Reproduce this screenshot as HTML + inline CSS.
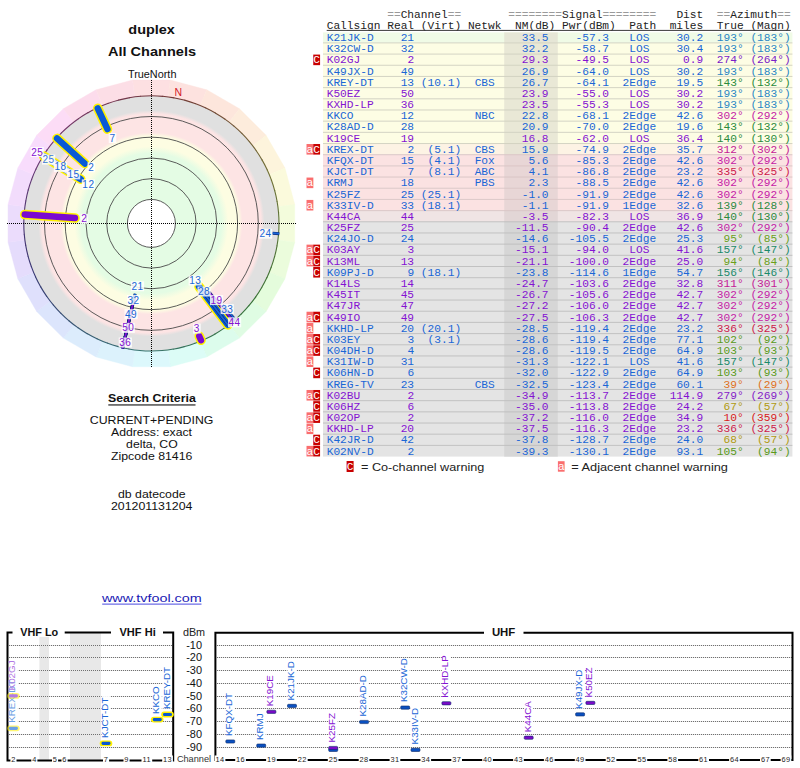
<!DOCTYPE html>
<html><head><meta charset="utf-8"><style>
html,body{margin:0;padding:0;background:#fff;}
body{width:800px;height:768px;overflow:hidden;position:relative;}
svg{position:absolute;left:0;top:0;}
</style></head><body>
<svg width="800" height="768" viewBox="0 0 800 768">
<g shape-rendering="geometricPrecision">
<path d="M151.4,223.4 L132.53,80.04 L170.27,80.04 Z" fill="#fde0e2" stroke="#fde0e2" stroke-width="0.4"/>
<path d="M151.4,223.4 L170.27,80.04 L206.74,89.81 Z" fill="#fde2df" stroke="#fde2df" stroke-width="0.4"/>
<path d="M151.4,223.4 L206.74,89.81 L239.43,108.68 Z" fill="#fde6dc" stroke="#fde6dc" stroke-width="0.4"/>
<path d="M151.4,223.4 L239.43,108.68 L266.12,135.37 Z" fill="#fdecdc" stroke="#fdecdc" stroke-width="0.4"/>
<path d="M151.4,223.4 L266.12,135.37 L284.99,168.06 Z" fill="#fdf4dc" stroke="#fdf4dc" stroke-width="0.4"/>
<path d="M151.4,223.4 L284.99,168.06 L294.76,204.53 Z" fill="#fbfadc" stroke="#fbfadc" stroke-width="0.4"/>
<path d="M151.4,223.4 L294.76,204.53 L294.76,242.27 Z" fill="#f3fcdc" stroke="#f3fcdc" stroke-width="0.4"/>
<path d="M151.4,223.4 L294.76,242.27 L284.99,278.74 Z" fill="#ebfcdc" stroke="#ebfcdc" stroke-width="0.4"/>
<path d="M151.4,223.4 L284.99,278.74 L266.12,311.43 Z" fill="#e4fcdc" stroke="#e4fcdc" stroke-width="0.4"/>
<path d="M151.4,223.4 L266.12,311.43 L239.43,338.12 Z" fill="#dffce3" stroke="#dffce3" stroke-width="0.4"/>
<path d="M151.4,223.4 L239.43,338.12 L206.74,356.99 Z" fill="#dcfcec" stroke="#dcfcec" stroke-width="0.4"/>
<path d="M151.4,223.4 L206.74,356.99 L170.27,366.76 Z" fill="#dcfcf6" stroke="#dcfcf6" stroke-width="0.4"/>
<path d="M151.4,223.4 L170.27,366.76 L132.53,366.76 Z" fill="#dcf8fc" stroke="#dcf8fc" stroke-width="0.4"/>
<path d="M151.4,223.4 L132.53,366.76 L96.06,356.99 Z" fill="#dcf2fc" stroke="#dcf2fc" stroke-width="0.4"/>
<path d="M151.4,223.4 L96.06,356.99 L63.37,338.12 Z" fill="#dcecfc" stroke="#dcecfc" stroke-width="0.4"/>
<path d="M151.4,223.4 L63.37,338.12 L36.68,311.43 Z" fill="#dce5fc" stroke="#dce5fc" stroke-width="0.4"/>
<path d="M151.4,223.4 L36.68,311.43 L17.81,278.74 Z" fill="#dfe0fc" stroke="#dfe0fc" stroke-width="0.4"/>
<path d="M151.4,223.4 L17.81,278.74 L8.04,242.27 Z" fill="#e5dcfc" stroke="#e5dcfc" stroke-width="0.4"/>
<path d="M151.4,223.4 L8.04,242.27 L8.04,204.53 Z" fill="#ebdcfc" stroke="#ebdcfc" stroke-width="0.4"/>
<path d="M151.4,223.4 L8.04,204.53 L17.81,168.06 Z" fill="#f2dcfc" stroke="#f2dcfc" stroke-width="0.4"/>
<path d="M151.4,223.4 L17.81,168.06 L36.68,135.37 Z" fill="#f8dcfc" stroke="#f8dcfc" stroke-width="0.4"/>
<path d="M151.4,223.4 L36.68,135.37 L63.37,108.68 Z" fill="#fcdcf6" stroke="#fcdcf6" stroke-width="0.4"/>
<path d="M151.4,223.4 L63.37,108.68 L96.06,89.81 Z" fill="#fcdcec" stroke="#fcdcec" stroke-width="0.4"/>
<path d="M151.4,223.4 L96.06,89.81 L132.53,80.04 Z" fill="#fcdee6" stroke="#fcdee6" stroke-width="0.4"/>
</g>
<defs><radialGradient id="bands" gradientUnits="userSpaceOnUse" cx="151.4" cy="223.4" r="127.6">
<stop offset="0.0000" stop-color="#fff"/>
<stop offset="0.1881" stop-color="#fff"/>
<stop offset="0.1882" stop-color="#e4fce4"/>
<stop offset="0.5486" stop-color="#e4fce4"/>
<stop offset="0.6034" stop-color="#fdfde2"/>
<stop offset="0.6818" stop-color="#fdfde2"/>
<stop offset="0.7132" stop-color="#fde4e4"/>
<stop offset="0.8582" stop-color="#fde4e4"/>
<stop offset="0.8856" stop-color="#e0e0e0"/>
<stop offset="1.0000" stop-color="#e0e0e0"/>
</radialGradient></defs>
<circle cx="151.4" cy="223.4" r="127.6" fill="url(#bands)"/>
<g fill="none" stroke="#4a4a4a" stroke-width="0.9">
<circle cx="151.4" cy="223.4" r="24"/>
<circle cx="151.4" cy="223.4" r="44.7"/>
<circle cx="151.4" cy="223.4" r="65.4"/>
<circle cx="151.4" cy="223.4" r="86.2"/>
<circle cx="151.4" cy="223.4" r="106.9"/>
</g>
<g fill="none" stroke-width="1.1">
<path d="M151.40,95.80 A127.6,127.6 0 0 1 163.19,96.35" stroke="hsl(354,35%,33%)"/>
<path d="M162.52,96.29 A127.6,127.6 0 0 1 174.22,97.86" stroke="hsl(360,35%,33%)"/>
<path d="M173.56,97.74 A127.6,127.6 0 0 1 185.07,100.32" stroke="hsl(4,35%,33%)"/>
<path d="M184.43,100.15 A127.6,127.6 0 0 1 195.67,103.73" stroke="hsl(10,35%,33%)"/>
<path d="M195.04,103.50 A127.6,127.6 0 0 1 205.93,108.04" stroke="hsl(14,35%,33%)"/>
<path d="M205.33,107.76 A127.6,127.6 0 0 1 215.78,113.23" stroke="hsl(20,35%,33%)"/>
<path d="M215.20,112.90 A127.6,127.6 0 0 1 225.13,119.26" stroke="hsl(24,35%,33%)"/>
<path d="M224.59,118.88 A127.6,127.6 0 0 1 233.93,126.08" stroke="hsl(30,35%,33%)"/>
<path d="M233.42,125.65 A127.6,127.6 0 0 1 242.10,133.65" stroke="hsl(34,35%,33%)"/>
<path d="M241.63,133.17 A127.6,127.6 0 0 1 249.58,141.89" stroke="hsl(40,35%,33%)"/>
<path d="M249.15,141.38 A127.6,127.6 0 0 1 256.31,150.76" stroke="hsl(44,35%,33%)"/>
<path d="M255.92,150.21 A127.6,127.6 0 0 1 262.24,160.18" stroke="hsl(50,35%,33%)"/>
<path d="M261.90,159.60 A127.6,127.6 0 0 1 267.33,170.08" stroke="hsl(54,35%,33%)"/>
<path d="M267.04,169.47 A127.6,127.6 0 0 1 271.53,180.39" stroke="hsl(60,35%,33%)"/>
<path d="M271.30,179.76 A127.6,127.6 0 0 1 274.82,191.02" stroke="hsl(64,35%,33%)"/>
<path d="M274.65,190.37 A127.6,127.6 0 0 1 277.18,201.90" stroke="hsl(70,35%,33%)"/>
<path d="M277.06,201.24 A127.6,127.6 0 0 1 278.57,212.94" stroke="hsl(74,35%,33%)"/>
<path d="M278.51,212.28 A127.6,127.6 0 0 1 279.00,224.07" stroke="hsl(80,35%,33%)"/>
<path d="M279.00,223.40 A127.6,127.6 0 0 1 278.45,235.19" stroke="hsl(84,35%,33%)"/>
<path d="M278.51,234.52 A127.6,127.6 0 0 1 276.94,246.22" stroke="hsl(90,35%,33%)"/>
<path d="M277.06,245.56 A127.6,127.6 0 0 1 274.48,257.07" stroke="hsl(94,35%,33%)"/>
<path d="M274.65,256.43 A127.6,127.6 0 0 1 271.07,267.67" stroke="hsl(100,35%,33%)"/>
<path d="M271.30,267.04 A127.6,127.6 0 0 1 266.76,277.93" stroke="hsl(104,35%,33%)"/>
<path d="M267.04,277.33 A127.6,127.6 0 0 1 261.57,287.78" stroke="hsl(110,35%,33%)"/>
<path d="M261.90,287.20 A127.6,127.6 0 0 1 255.54,297.13" stroke="hsl(114,35%,33%)"/>
<path d="M255.92,296.59 A127.6,127.6 0 0 1 248.72,305.93" stroke="hsl(120,35%,33%)"/>
<path d="M249.15,305.42 A127.6,127.6 0 0 1 241.15,314.10" stroke="hsl(124,35%,33%)"/>
<path d="M241.63,313.63 A127.6,127.6 0 0 1 232.91,321.58" stroke="hsl(130,35%,33%)"/>
<path d="M233.42,321.15 A127.6,127.6 0 0 1 224.04,328.31" stroke="hsl(134,35%,33%)"/>
<path d="M224.59,327.92 A127.6,127.6 0 0 1 214.62,334.24" stroke="hsl(140,35%,33%)"/>
<path d="M215.20,333.90 A127.6,127.6 0 0 1 204.72,339.33" stroke="hsl(144,35%,33%)"/>
<path d="M205.33,339.04 A127.6,127.6 0 0 1 194.41,343.53" stroke="hsl(150,35%,33%)"/>
<path d="M195.04,343.30 A127.6,127.6 0 0 1 183.78,346.82" stroke="hsl(154,35%,33%)"/>
<path d="M184.43,346.65 A127.6,127.6 0 0 1 172.90,349.18" stroke="hsl(160,35%,33%)"/>
<path d="M173.56,349.06 A127.6,127.6 0 0 1 161.86,350.57" stroke="hsl(164,35%,33%)"/>
<path d="M162.52,350.51 A127.6,127.6 0 0 1 150.73,351.00" stroke="hsl(170,35%,33%)"/>
<path d="M151.40,351.00 A127.6,127.6 0 0 1 139.61,350.45" stroke="hsl(174,35%,33%)"/>
<path d="M140.28,350.51 A127.6,127.6 0 0 1 128.58,348.94" stroke="hsl(180,35%,33%)"/>
<path d="M129.24,349.06 A127.6,127.6 0 0 1 117.73,346.48" stroke="hsl(184,35%,33%)"/>
<path d="M118.37,346.65 A127.6,127.6 0 0 1 107.13,343.07" stroke="hsl(190,35%,33%)"/>
<path d="M107.76,343.30 A127.6,127.6 0 0 1 96.87,338.76" stroke="hsl(194,35%,33%)"/>
<path d="M97.47,339.04 A127.6,127.6 0 0 1 87.02,333.57" stroke="hsl(200,35%,33%)"/>
<path d="M87.60,333.90 A127.6,127.6 0 0 1 77.67,327.54" stroke="hsl(204,35%,33%)"/>
<path d="M78.21,327.92 A127.6,127.6 0 0 1 68.87,320.72" stroke="hsl(210,35%,33%)"/>
<path d="M69.38,321.15 A127.6,127.6 0 0 1 60.70,313.15" stroke="hsl(214,35%,33%)"/>
<path d="M61.17,313.63 A127.6,127.6 0 0 1 53.22,304.91" stroke="hsl(220,35%,33%)"/>
<path d="M53.65,305.42 A127.6,127.6 0 0 1 46.49,296.04" stroke="hsl(224,35%,33%)"/>
<path d="M46.88,296.59 A127.6,127.6 0 0 1 40.56,286.62" stroke="hsl(230,35%,33%)"/>
<path d="M40.90,287.20 A127.6,127.6 0 0 1 35.47,276.72" stroke="hsl(234,35%,33%)"/>
<path d="M35.76,277.33 A127.6,127.6 0 0 1 31.27,266.41" stroke="hsl(240,35%,33%)"/>
<path d="M31.50,267.04 A127.6,127.6 0 0 1 27.98,255.78" stroke="hsl(244,35%,33%)"/>
<path d="M28.15,256.43 A127.6,127.6 0 0 1 25.62,244.90" stroke="hsl(250,35%,33%)"/>
<path d="M25.74,245.56 A127.6,127.6 0 0 1 24.23,233.86" stroke="hsl(254,35%,33%)"/>
<path d="M24.29,234.52 A127.6,127.6 0 0 1 23.80,222.73" stroke="hsl(260,35%,33%)"/>
<path d="M23.80,223.40 A127.6,127.6 0 0 1 24.35,211.61" stroke="hsl(264,35%,33%)"/>
<path d="M24.29,212.28 A127.6,127.6 0 0 1 25.86,200.58" stroke="hsl(270,35%,33%)"/>
<path d="M25.74,201.24 A127.6,127.6 0 0 1 28.32,189.73" stroke="hsl(274,35%,33%)"/>
<path d="M28.15,190.37 A127.6,127.6 0 0 1 31.73,179.13" stroke="hsl(280,35%,33%)"/>
<path d="M31.50,179.76 A127.6,127.6 0 0 1 36.04,168.87" stroke="hsl(284,35%,33%)"/>
<path d="M35.76,169.47 A127.6,127.6 0 0 1 41.23,159.02" stroke="hsl(290,35%,33%)"/>
<path d="M40.90,159.60 A127.6,127.6 0 0 1 47.26,149.67" stroke="hsl(294,35%,33%)"/>
<path d="M46.88,150.21 A127.6,127.6 0 0 1 54.08,140.87" stroke="hsl(300,35%,33%)"/>
<path d="M53.65,141.38 A127.6,127.6 0 0 1 61.65,132.70" stroke="hsl(304,35%,33%)"/>
<path d="M61.17,133.17 A127.6,127.6 0 0 1 69.89,125.22" stroke="hsl(310,35%,33%)"/>
<path d="M69.38,125.65 A127.6,127.6 0 0 1 78.76,118.49" stroke="hsl(314,35%,33%)"/>
<path d="M78.21,118.88 A127.6,127.6 0 0 1 88.18,112.56" stroke="hsl(320,35%,33%)"/>
<path d="M87.60,112.90 A127.6,127.6 0 0 1 98.08,107.47" stroke="hsl(324,35%,33%)"/>
<path d="M97.47,107.76 A127.6,127.6 0 0 1 108.39,103.27" stroke="hsl(330,35%,33%)"/>
<path d="M107.76,103.50 A127.6,127.6 0 0 1 119.02,99.98" stroke="hsl(334,35%,33%)"/>
<path d="M118.37,100.15 A127.6,127.6 0 0 1 129.90,97.62" stroke="hsl(340,35%,33%)"/>
<path d="M129.24,97.74 A127.6,127.6 0 0 1 140.94,96.23" stroke="hsl(344,35%,33%)"/>
<path d="M140.28,96.29 A127.6,127.6 0 0 1 152.07,95.80" stroke="hsl(350,35%,33%)"/>
</g>
<g stroke="#000" stroke-width="1" stroke-dasharray="1 1" shape-rendering="crispEdges"><line x1="151.5" y1="80" x2="151.5" y2="367"/><line x1="7" y1="223.5" x2="296" y2="223.5"/></g>
<line x1="80.76" y1="179.26" x2="43.70" y2="156.10" stroke="#fff200" stroke-width="9.6" stroke-linecap="round"/>
<line x1="80.76" y1="179.26" x2="43.70" y2="156.10" stroke="#0a5ad6" stroke-width="6.4" stroke-linecap="round"/>
<line x1="75.08" y1="175.71" x2="43.70" y2="156.10" stroke="#e6e4f0" stroke-width="6" stroke-linecap="round"/>
<line x1="107.45" y1="129.14" x2="97.73" y2="108.30" stroke="#fff200" stroke-width="9.6" stroke-linecap="round"/>
<line x1="107.45" y1="129.14" x2="97.73" y2="108.30" stroke="#0a5ad6" stroke-width="6.4" stroke-linecap="round"/>
<line x1="84.89" y1="163.51" x2="57.02" y2="138.42" stroke="#fff200" stroke-width="9.6" stroke-linecap="round"/>
<line x1="84.89" y1="163.51" x2="57.02" y2="138.42" stroke="#0a5ad6" stroke-width="6.4" stroke-linecap="round"/>
<line x1="74.99" y1="218.06" x2="24.71" y2="214.54" stroke="#fff200" stroke-width="9.6" stroke-linecap="round"/>
<line x1="74.99" y1="218.06" x2="24.71" y2="214.54" stroke="#7a0ad0" stroke-width="6.4" stroke-linecap="round"/>
<line x1="198.94" y1="286.49" x2="227.83" y2="324.83" stroke="#fff200" stroke-width="9.6" stroke-linecap="round"/>
<line x1="198.94" y1="286.49" x2="227.83" y2="324.83" stroke="#0a5ad6" stroke-width="6.4" stroke-linecap="round"/>
<line x1="199.26" y1="336.16" x2="201.02" y2="340.30" stroke="#fff200" stroke-width="9.6" stroke-linecap="round"/>
<line x1="199.26" y1="336.16" x2="201.02" y2="340.30" stroke="#7a0ad0" stroke-width="6.4" stroke-linecap="round"/>
<line x1="135.16" y1="293.75" x2="122.54" y2="348.41" stroke="#0a2a78" stroke-width="3"/>
<line x1="135.16" y1="293.75" x2="122.54" y2="348.41" stroke="#1a66d6" stroke-width="1.8"/>
<line x1="134.84" y1="295.11" x2="122.54" y2="348.41" stroke="#0a2a78" stroke-width="3"/>
<line x1="134.84" y1="295.11" x2="122.54" y2="348.41" stroke="#1a66d6" stroke-width="1.8"/>
<line x1="133.63" y1="300.38" x2="122.54" y2="348.41" stroke="#0a2a78" stroke-width="3"/>
<line x1="133.63" y1="300.38" x2="122.54" y2="348.41" stroke="#1a66d6" stroke-width="1.8"/>
<line x1="132.91" y1="303.49" x2="122.54" y2="348.41" stroke="#0a2a78" stroke-width="3"/>
<line x1="132.91" y1="303.49" x2="122.54" y2="348.41" stroke="#8412d2" stroke-width="1.8"/>
<line x1="132.82" y1="303.88" x2="122.54" y2="348.41" stroke="#0a2a78" stroke-width="3"/>
<line x1="132.82" y1="303.88" x2="122.54" y2="348.41" stroke="#8412d2" stroke-width="1.8"/>
<line x1="202.73" y1="291.52" x2="228.61" y2="325.86" stroke="#0a2a78" stroke-width="3"/>
<line x1="202.73" y1="291.52" x2="228.61" y2="325.86" stroke="#1a66d6" stroke-width="1.8"/>
<line x1="208.93" y1="291.96" x2="233.87" y2="321.68" stroke="#0a2a78" stroke-width="3"/>
<line x1="208.93" y1="291.96" x2="233.87" y2="321.68" stroke="#8412d2" stroke-width="1.8"/>
<line x1="222.25" y1="304.91" x2="235.57" y2="320.23" stroke="#0a2a78" stroke-width="3"/>
<line x1="222.25" y1="304.91" x2="235.57" y2="320.23" stroke="#1a66d6" stroke-width="1.8"/>
<line x1="222.43" y1="308.05" x2="233.87" y2="321.68" stroke="#0a2a78" stroke-width="3"/>
<line x1="222.43" y1="308.05" x2="233.87" y2="321.68" stroke="#8412d2" stroke-width="1.8"/>
<line x1="272.61" y1="233.15" x2="279.29" y2="233.69" stroke="#0a2a78" stroke-width="3"/>
<line x1="272.61" y1="233.15" x2="279.29" y2="233.69" stroke="#1a66d6" stroke-width="1.8"/>
<rect x="108.7" y="133.0" width="7.6" height="10" fill="#fff" fill-opacity="0.82"/>
<text x="112.5" y="141.5" font-family="Liberation Sans" font-size="10" fill="#1a66d6" text-anchor="middle" letter-spacing="0.5">7</text>
<rect x="87.5" y="162.3" width="7.6" height="10" fill="#fff" fill-opacity="0.82"/>
<text x="91.3" y="170.8" font-family="Liberation Sans" font-size="10" fill="#1a66d6" text-anchor="middle" letter-spacing="0.5">2</text>
<rect x="30.6" y="147.0" width="13.2" height="10" fill="#fff" fill-opacity="0.82"/>
<text x="37.2" y="155.5" font-family="Liberation Sans" font-size="10" fill="#8412d2" text-anchor="middle" letter-spacing="0.5">25</text>
<rect x="42.0" y="154.6" width="13.2" height="10" fill="#fff" fill-opacity="0.82"/>
<text x="48.6" y="163.1" font-family="Liberation Sans" font-size="10" fill="#3a78d8" text-anchor="middle" letter-spacing="0.5">25</text>
<rect x="53.9" y="161.9" width="13.2" height="10" fill="#fff" fill-opacity="0.82"/>
<text x="60.5" y="170.4" font-family="Liberation Sans" font-size="10" fill="#1a66d6" text-anchor="middle" letter-spacing="0.5">18</text>
<rect x="67.0" y="169.4" width="13.2" height="10" fill="#fff" fill-opacity="0.82"/>
<text x="73.6" y="177.9" font-family="Liberation Sans" font-size="10" fill="#1a66d6" text-anchor="middle" letter-spacing="0.5">15</text>
<rect x="81.8" y="179.4" width="13.2" height="10" fill="#fff" fill-opacity="0.82"/>
<text x="88.4" y="187.9" font-family="Liberation Sans" font-size="10" fill="#1a66d6" text-anchor="middle" letter-spacing="0.5">12</text>
<rect x="80.6" y="213.8" width="7.6" height="10" fill="#fff" fill-opacity="0.82"/>
<text x="84.4" y="222.3" font-family="Liberation Sans" font-size="10" fill="#8412d2" text-anchor="middle" letter-spacing="0.5">2</text>
<rect x="259.0" y="228.7" width="13.2" height="10" fill="#fff" fill-opacity="0.82"/>
<text x="265.6" y="237.2" font-family="Liberation Sans" font-size="10" fill="#1a66d6" text-anchor="middle" letter-spacing="0.5">24</text>
<rect x="130.9" y="281.3" width="13.2" height="10" fill="#fff" fill-opacity="0.82"/>
<text x="137.5" y="289.8" font-family="Liberation Sans" font-size="10" fill="#1a66d6" text-anchor="middle" letter-spacing="0.5">21</text>
<rect x="127.0" y="295.0" width="13.2" height="10" fill="#fff" fill-opacity="0.82"/>
<text x="133.6" y="303.5" font-family="Liberation Sans" font-size="10" fill="#1a66d6" text-anchor="middle" letter-spacing="0.5">32</text>
<rect x="124.5" y="309.2" width="13.2" height="10" fill="#fff" fill-opacity="0.82"/>
<text x="131.1" y="317.7" font-family="Liberation Sans" font-size="10" fill="#1a66d6" text-anchor="middle" letter-spacing="0.5">49</text>
<rect x="121.6" y="322.9" width="13.2" height="10" fill="#fff" fill-opacity="0.82"/>
<text x="128.2" y="331.4" font-family="Liberation Sans" font-size="10" fill="#8412d2" text-anchor="middle" letter-spacing="0.5">50</text>
<rect x="118.7" y="337.5" width="13.2" height="10" fill="#fff" fill-opacity="0.82"/>
<text x="125.3" y="346.0" font-family="Liberation Sans" font-size="10" fill="#8412d2" text-anchor="middle" letter-spacing="0.5">36</text>
<rect x="188.6" y="275.5" width="13.2" height="10" fill="#fff" fill-opacity="0.82"/>
<text x="195.2" y="284.0" font-family="Liberation Sans" font-size="10" fill="#1a66d6" text-anchor="middle" letter-spacing="0.5">13</text>
<rect x="197.5" y="286.5" width="13.2" height="10" fill="#fff" fill-opacity="0.82"/>
<text x="204.1" y="295.0" font-family="Liberation Sans" font-size="10" fill="#1a66d6" text-anchor="middle" letter-spacing="0.5">28</text>
<rect x="210.0" y="295.1" width="13.2" height="10" fill="#fff" fill-opacity="0.82"/>
<text x="216.6" y="303.6" font-family="Liberation Sans" font-size="10" fill="#8412d2" text-anchor="middle" letter-spacing="0.5">19</text>
<rect x="220.6" y="304.1" width="13.2" height="10" fill="#fff" fill-opacity="0.82"/>
<text x="227.2" y="312.6" font-family="Liberation Sans" font-size="10" fill="#1a66d6" text-anchor="middle" letter-spacing="0.5">33</text>
<rect x="228.0" y="317.3" width="13.2" height="10" fill="#fff" fill-opacity="0.82"/>
<text x="234.6" y="325.8" font-family="Liberation Sans" font-size="10" fill="#8412d2" text-anchor="middle" letter-spacing="0.5">44</text>
<rect x="193.1" y="323.6" width="7.6" height="10" fill="#fff" fill-opacity="0.82"/>
<text x="196.9" y="332.1" font-family="Liberation Sans" font-size="10" fill="#8412d2" text-anchor="middle" letter-spacing="0.5">3</text>
<text x="178.2" y="95.6" font-family="Liberation Sans" font-size="10.5" fill="#d41a2a" text-anchor="middle">N</text>
<text x="151.6" y="33.7" font-family="Liberation Sans" font-size="13.2" font-weight="bold" fill="#111" text-anchor="middle" textLength="46.5" lengthAdjust="spacingAndGlyphs">duplex</text>
<text x="152.0" y="55.6" font-family="Liberation Sans" font-size="13.2" font-weight="bold" fill="#111" text-anchor="middle" textLength="88" lengthAdjust="spacingAndGlyphs">All Channels</text>
<text x="152.2" y="77.5" font-family="Liberation Sans" font-size="10.4" font-weight="normal" fill="#111" text-anchor="middle" textLength="48.5" lengthAdjust="spacingAndGlyphs">TrueNorth</text>
<text x="151.9" y="401.9" font-family="Liberation Sans" font-size="11.8" font-weight="bold" fill="#111" text-anchor="middle" textLength="87.8" lengthAdjust="spacingAndGlyphs">Search Criteria</text>
<rect x="108.3" y="404.4" width="87.2" height="1.1" fill="#111"/>
<text x="151.6" y="423.5" font-family="Liberation Sans" font-size="10.6" font-weight="normal" fill="#111" text-anchor="middle" textLength="123.6" lengthAdjust="spacingAndGlyphs">CURRENT+PENDING</text>
<text x="151.5" y="436.4" font-family="Liberation Sans" font-size="10.6" font-weight="normal" fill="#111" text-anchor="middle" textLength="81" lengthAdjust="spacingAndGlyphs">Address: exact</text>
<text x="151.9" y="448.3" font-family="Liberation Sans" font-size="10.6" font-weight="normal" fill="#111" text-anchor="middle" textLength="51.6" lengthAdjust="spacingAndGlyphs">delta, CO</text>
<text x="151.7" y="460.1" font-family="Liberation Sans" font-size="10.6" font-weight="normal" fill="#111" text-anchor="middle" textLength="81.4" lengthAdjust="spacingAndGlyphs">Zipcode 81416</text>
<text x="151.8" y="497.7" font-family="Liberation Sans" font-size="10.6" font-weight="normal" fill="#111" text-anchor="middle" textLength="67.6" lengthAdjust="spacingAndGlyphs">db datecode</text>
<text x="151.7" y="509.5" font-family="Liberation Sans" font-size="10.6" font-weight="normal" fill="#111" text-anchor="middle" textLength="81.4" lengthAdjust="spacingAndGlyphs">201201131204</text>
<text x="151.85" y="601.5" font-family="Liberation Sans" font-size="11" font-weight="normal" fill="#1a1ab4" text-anchor="middle" textLength="99.8" lengthAdjust="spacingAndGlyphs">www.tvfool.com</text>
<rect x="102.2" y="603.6" width="99.3" height="1" fill="#4a4ae0"/>
<g font-family="Liberation Mono" font-size="11.2" xml:space="preserve">
<rect x="323" y="32.40" width="469.4" height="10.50" fill="#f0fbe6"/>
<rect x="504.2" y="32.40" width="53.6" height="10.50" fill="#e6e6d6"/>
<rect x="323" y="42.90" width="469.4" height="11.18" fill="#fdfde4"/>
<rect x="504.2" y="42.90" width="53.6" height="11.18" fill="#e9e8d6"/>
<rect x="323" y="54.08" width="469.4" height="11.18" fill="#fdfde4"/>
<rect x="504.2" y="54.08" width="53.6" height="11.18" fill="#e9e8d6"/>
<rect x="323" y="65.26" width="469.4" height="11.18" fill="#fdfde4"/>
<rect x="504.2" y="65.26" width="53.6" height="11.18" fill="#e9e8d6"/>
<rect x="323" y="76.44" width="469.4" height="11.18" fill="#fdfde4"/>
<rect x="504.2" y="76.44" width="53.6" height="11.18" fill="#e9e8d6"/>
<rect x="323" y="87.62" width="469.4" height="11.18" fill="#fdfde4"/>
<rect x="504.2" y="87.62" width="53.6" height="11.18" fill="#e9e8d6"/>
<rect x="323" y="98.80" width="469.4" height="11.18" fill="#fdfde4"/>
<rect x="504.2" y="98.80" width="53.6" height="11.18" fill="#e9e8d6"/>
<rect x="323" y="109.98" width="469.4" height="11.18" fill="#fdfde4"/>
<rect x="504.2" y="109.98" width="53.6" height="11.18" fill="#e9e8d6"/>
<rect x="323" y="121.16" width="469.4" height="11.18" fill="#fdfde4"/>
<rect x="504.2" y="121.16" width="53.6" height="11.18" fill="#e9e8d6"/>
<rect x="323" y="132.34" width="469.4" height="11.18" fill="#fdfde4"/>
<rect x="504.2" y="132.34" width="53.6" height="11.18" fill="#e9e8d6"/>
<rect x="323" y="143.52" width="469.4" height="11.18" fill="#fdf3e4"/>
<rect x="504.2" y="143.52" width="53.6" height="11.18" fill="#e8e4d6"/>
<rect x="323" y="154.70" width="469.4" height="11.18" fill="#fbe2e2"/>
<rect x="504.2" y="154.70" width="53.6" height="11.18" fill="#e8d6d6"/>
<rect x="323" y="165.88" width="469.4" height="11.18" fill="#fbe2e2"/>
<rect x="504.2" y="165.88" width="53.6" height="11.18" fill="#e8d6d6"/>
<rect x="323" y="177.06" width="469.4" height="11.18" fill="#fbe2e2"/>
<rect x="504.2" y="177.06" width="53.6" height="11.18" fill="#e8d6d6"/>
<rect x="323" y="188.24" width="469.4" height="11.18" fill="#fbe2e2"/>
<rect x="504.2" y="188.24" width="53.6" height="11.18" fill="#e8d6d6"/>
<rect x="323" y="199.42" width="469.4" height="11.18" fill="#fbe2e2"/>
<rect x="504.2" y="199.42" width="53.6" height="11.18" fill="#e8d6d6"/>
<rect x="323" y="210.60" width="469.4" height="11.18" fill="#f0e4e4"/>
<rect x="504.2" y="210.60" width="53.6" height="11.18" fill="#e2d6d6"/>
<rect x="323" y="221.78" width="469.4" height="11.18" fill="#e4e4e4"/>
<rect x="504.2" y="221.78" width="53.6" height="11.18" fill="#d6d6d6"/>
<rect x="323" y="232.96" width="469.4" height="11.18" fill="#e4e4e4"/>
<rect x="504.2" y="232.96" width="53.6" height="11.18" fill="#d6d6d6"/>
<rect x="323" y="244.14" width="469.4" height="11.18" fill="#e4e4e4"/>
<rect x="504.2" y="244.14" width="53.6" height="11.18" fill="#d6d6d6"/>
<rect x="323" y="255.32" width="469.4" height="11.18" fill="#e4e4e4"/>
<rect x="504.2" y="255.32" width="53.6" height="11.18" fill="#d6d6d6"/>
<rect x="323" y="266.50" width="469.4" height="11.18" fill="#e4e4e4"/>
<rect x="504.2" y="266.50" width="53.6" height="11.18" fill="#d6d6d6"/>
<rect x="323" y="277.68" width="469.4" height="11.18" fill="#e4e4e4"/>
<rect x="504.2" y="277.68" width="53.6" height="11.18" fill="#d6d6d6"/>
<rect x="323" y="288.86" width="469.4" height="11.18" fill="#e4e4e4"/>
<rect x="504.2" y="288.86" width="53.6" height="11.18" fill="#d6d6d6"/>
<rect x="323" y="300.04" width="469.4" height="11.18" fill="#e4e4e4"/>
<rect x="504.2" y="300.04" width="53.6" height="11.18" fill="#d6d6d6"/>
<rect x="323" y="311.22" width="469.4" height="11.18" fill="#e4e4e4"/>
<rect x="504.2" y="311.22" width="53.6" height="11.18" fill="#d6d6d6"/>
<rect x="323" y="322.40" width="469.4" height="11.18" fill="#e4e4e4"/>
<rect x="504.2" y="322.40" width="53.6" height="11.18" fill="#d6d6d6"/>
<rect x="323" y="333.58" width="469.4" height="11.18" fill="#e4e4e4"/>
<rect x="504.2" y="333.58" width="53.6" height="11.18" fill="#d6d6d6"/>
<rect x="323" y="344.76" width="469.4" height="11.18" fill="#e4e4e4"/>
<rect x="504.2" y="344.76" width="53.6" height="11.18" fill="#d6d6d6"/>
<rect x="323" y="355.94" width="469.4" height="11.18" fill="#e4e4e4"/>
<rect x="504.2" y="355.94" width="53.6" height="11.18" fill="#d6d6d6"/>
<rect x="323" y="367.12" width="469.4" height="11.18" fill="#e4e4e4"/>
<rect x="504.2" y="367.12" width="53.6" height="11.18" fill="#d6d6d6"/>
<rect x="323" y="378.30" width="469.4" height="11.18" fill="#e4e4e4"/>
<rect x="504.2" y="378.30" width="53.6" height="11.18" fill="#d6d6d6"/>
<rect x="323" y="389.48" width="469.4" height="11.18" fill="#e4e4e4"/>
<rect x="504.2" y="389.48" width="53.6" height="11.18" fill="#d6d6d6"/>
<rect x="323" y="400.66" width="469.4" height="11.18" fill="#e4e4e4"/>
<rect x="504.2" y="400.66" width="53.6" height="11.18" fill="#d6d6d6"/>
<rect x="323" y="411.84" width="469.4" height="11.18" fill="#e4e4e4"/>
<rect x="504.2" y="411.84" width="53.6" height="11.18" fill="#d6d6d6"/>
<rect x="323" y="423.02" width="469.4" height="11.18" fill="#e4e4e4"/>
<rect x="504.2" y="423.02" width="53.6" height="11.18" fill="#d6d6d6"/>
<rect x="323" y="434.20" width="469.4" height="11.18" fill="#e4e4e4"/>
<rect x="504.2" y="434.20" width="53.6" height="11.18" fill="#d6d6d6"/>
<rect x="323" y="445.38" width="469.4" height="11.22" fill="#e4e4e4"/>
<rect x="504.2" y="445.38" width="53.6" height="11.22" fill="#d6d6d6"/>
<rect x="323" y="42.40" width="469.4" height="1" fill="#cfcfbf" fill-opacity="0.9"/>
<rect x="323" y="53.58" width="469.4" height="1" fill="#cfcfbf" fill-opacity="0.9"/>
<rect x="323" y="64.76" width="469.4" height="1" fill="#cfcfbf" fill-opacity="0.9"/>
<rect x="323" y="75.94" width="469.4" height="1" fill="#cfcfbf" fill-opacity="0.9"/>
<rect x="323" y="87.12" width="469.4" height="1" fill="#cfcfbf" fill-opacity="0.9"/>
<rect x="323" y="98.30" width="469.4" height="1" fill="#cfcfbf" fill-opacity="0.9"/>
<rect x="323" y="109.48" width="469.4" height="1" fill="#cfcfbf" fill-opacity="0.9"/>
<rect x="323" y="120.66" width="469.4" height="1" fill="#cfcfbf" fill-opacity="0.9"/>
<rect x="323" y="131.84" width="469.4" height="1" fill="#cfcfbf" fill-opacity="0.9"/>
<rect x="323" y="143.02" width="469.4" height="1" fill="#cfcfbf" fill-opacity="0.9"/>
<rect x="323" y="154.20" width="469.4" height="1" fill="#d8c4c4" fill-opacity="0.9"/>
<rect x="323" y="165.38" width="469.4" height="1" fill="#d8c4c4" fill-opacity="0.9"/>
<rect x="323" y="176.56" width="469.4" height="1" fill="#d8c4c4" fill-opacity="0.9"/>
<rect x="323" y="187.74" width="469.4" height="1" fill="#d8c4c4" fill-opacity="0.9"/>
<rect x="323" y="198.92" width="469.4" height="1" fill="#d8c4c4" fill-opacity="0.9"/>
<rect x="323" y="210.10" width="469.4" height="1" fill="#d8c4c4" fill-opacity="0.9"/>
<rect x="323" y="221.28" width="469.4" height="1" fill="#bdbdbd" fill-opacity="0.9"/>
<rect x="323" y="232.46" width="469.4" height="1" fill="#bdbdbd" fill-opacity="0.9"/>
<rect x="323" y="243.64" width="469.4" height="1" fill="#bdbdbd" fill-opacity="0.9"/>
<rect x="323" y="254.82" width="469.4" height="1" fill="#bdbdbd" fill-opacity="0.9"/>
<rect x="323" y="266.00" width="469.4" height="1" fill="#bdbdbd" fill-opacity="0.9"/>
<rect x="323" y="277.18" width="469.4" height="1" fill="#bdbdbd" fill-opacity="0.9"/>
<rect x="323" y="288.36" width="469.4" height="1" fill="#bdbdbd" fill-opacity="0.9"/>
<rect x="323" y="299.54" width="469.4" height="1" fill="#bdbdbd" fill-opacity="0.9"/>
<rect x="323" y="310.72" width="469.4" height="1" fill="#bdbdbd" fill-opacity="0.9"/>
<rect x="323" y="321.90" width="469.4" height="1" fill="#bdbdbd" fill-opacity="0.9"/>
<rect x="323" y="333.08" width="469.4" height="1" fill="#bdbdbd" fill-opacity="0.9"/>
<rect x="323" y="344.26" width="469.4" height="1" fill="#bdbdbd" fill-opacity="0.9"/>
<rect x="323" y="355.44" width="469.4" height="1" fill="#bdbdbd" fill-opacity="0.9"/>
<rect x="323" y="366.62" width="469.4" height="1" fill="#bdbdbd" fill-opacity="0.9"/>
<rect x="323" y="377.80" width="469.4" height="1" fill="#bdbdbd" fill-opacity="0.9"/>
<rect x="323" y="388.98" width="469.4" height="1" fill="#bdbdbd" fill-opacity="0.9"/>
<rect x="323" y="400.16" width="469.4" height="1" fill="#bdbdbd" fill-opacity="0.9"/>
<rect x="323" y="411.34" width="469.4" height="1" fill="#bdbdbd" fill-opacity="0.9"/>
<rect x="323" y="422.52" width="469.4" height="1" fill="#bdbdbd" fill-opacity="0.9"/>
<rect x="323" y="433.70" width="469.4" height="1" fill="#bdbdbd" fill-opacity="0.9"/>
<rect x="323" y="444.88" width="469.4" height="1" fill="#bdbdbd" fill-opacity="0.9"/>
<text x="387.22" y="17.50" fill="#9a9a9a">==</text>
<text x="400.67" y="17.50" fill="#222">Channel</text>
<text x="447.75" y="17.50" fill="#9a9a9a">==</text>
<text x="508.27" y="17.50" fill="#9a9a9a">========</text>
<text x="562.08" y="17.50" fill="#222">Signal</text>
<text x="602.42" y="17.50" fill="#9a9a9a">========</text>
<text x="676.40" y="17.50" fill="#222">Dist</text>
<text x="716.75" y="17.50" fill="#9a9a9a">==</text>
<text x="730.20" y="17.50" fill="#222">Azimuth</text>
<text x="777.27" y="17.50" fill="#9a9a9a">==</text>
<text x="326.70" y="28.60" fill="#222">Callsign</text>
<text x="387.22" y="28.60" fill="#222">Real</text>
<text x="420.85" y="28.60" fill="#222">(Virt)</text>
<text x="467.92" y="28.60" fill="#222">Netwk</text>
<text x="515.00" y="28.60" fill="#222">NM(dB)</text>
<text x="562.08" y="28.60" fill="#222">Pwr(dBm)</text>
<text x="629.33" y="28.60" fill="#222">Path</text>
<text x="669.67" y="28.60" fill="#222">miles</text>
<text x="716.75" y="28.60" fill="#222">True</text>
<text x="750.38" y="28.60" fill="#222">(Magn)</text>
<rect x="326.7" y="29.9" width="464.02" height="1" fill="#3a3a3a"/>
<text x="326.70" y="41.00" fill="#1a66d6">K21JK-D</text>
<text x="400.67" y="41.00" fill="#1a66d6">21</text>
<text x="521.72" y="41.00" fill="#1a66d6">33.5</text>
<text x="575.52" y="41.00" fill="#1a66d6">-57.3</text>
<text x="629.33" y="41.00" fill="#1a66d6">LOS</text>
<text x="676.40" y="41.00" fill="#1a66d6">30.2</text>
<text x="716.75" y="41.00" fill="#2a86c4">193°</text>
<text x="750.38" y="41.00" fill="#2a86c4">(183°)</text>
<text x="326.70" y="52.18" fill="#1a66d6">K32CW-D</text>
<text x="400.67" y="52.18" fill="#1a66d6">32</text>
<text x="521.72" y="52.18" fill="#1a66d6">32.2</text>
<text x="575.52" y="52.18" fill="#1a66d6">-58.7</text>
<text x="629.33" y="52.18" fill="#1a66d6">LOS</text>
<text x="676.40" y="52.18" fill="#1a66d6">30.4</text>
<text x="716.75" y="52.18" fill="#2a86c4">193°</text>
<text x="750.38" y="52.18" fill="#2a86c4">(183°)</text>
<rect x="313.25" y="54.58" width="6.82" height="10.58" fill="#c80000"/>
<text x="313.25" y="63.36" fill="#fff">C</text>
<text x="326.70" y="63.36" fill="#8412d2">K02GJ</text>
<text x="407.40" y="63.36" fill="#8412d2">2</text>
<text x="521.72" y="63.36" fill="#8412d2">29.3</text>
<text x="575.52" y="63.36" fill="#8412d2">-49.5</text>
<text x="629.33" y="63.36" fill="#8412d2">LOS</text>
<text x="683.12" y="63.36" fill="#8412d2">0.9</text>
<text x="716.75" y="63.36" fill="#7a20c8">274°</text>
<text x="750.38" y="63.36" fill="#7a20c8">(264°)</text>
<text x="326.70" y="74.54" fill="#1a66d6">K49JX-D</text>
<text x="400.67" y="74.54" fill="#1a66d6">49</text>
<text x="521.72" y="74.54" fill="#1a66d6">26.9</text>
<text x="575.52" y="74.54" fill="#1a66d6">-64.0</text>
<text x="629.33" y="74.54" fill="#1a66d6">LOS</text>
<text x="676.40" y="74.54" fill="#1a66d6">30.2</text>
<text x="716.75" y="74.54" fill="#2a86c4">193°</text>
<text x="750.38" y="74.54" fill="#2a86c4">(183°)</text>
<text x="326.70" y="85.72" fill="#1a66d6">KREY-DT</text>
<text x="400.67" y="85.72" fill="#1a66d6">13</text>
<text x="420.85" y="85.72" fill="#1a66d6">(10.1)</text>
<text x="474.65" y="85.72" fill="#1a66d6">CBS</text>
<text x="521.72" y="85.72" fill="#1a66d6">26.7</text>
<text x="575.52" y="85.72" fill="#1a66d6">-64.1</text>
<text x="622.60" y="85.72" fill="#1a66d6">2Edge</text>
<text x="676.40" y="85.72" fill="#1a66d6">19.5</text>
<text x="716.75" y="85.72" fill="#2a8a3c">143°</text>
<text x="750.38" y="85.72" fill="#2a8a3c">(132°)</text>
<text x="326.70" y="96.90" fill="#8412d2">K50EZ</text>
<text x="400.67" y="96.90" fill="#8412d2">50</text>
<text x="521.72" y="96.90" fill="#8412d2">23.9</text>
<text x="575.52" y="96.90" fill="#8412d2">-55.0</text>
<text x="629.33" y="96.90" fill="#8412d2">LOS</text>
<text x="676.40" y="96.90" fill="#8412d2">30.2</text>
<text x="716.75" y="96.90" fill="#2a86c4">193°</text>
<text x="750.38" y="96.90" fill="#2a86c4">(183°)</text>
<text x="326.70" y="108.08" fill="#8412d2">KXHD-LP</text>
<text x="400.67" y="108.08" fill="#8412d2">36</text>
<text x="521.72" y="108.08" fill="#8412d2">23.5</text>
<text x="575.52" y="108.08" fill="#8412d2">-55.3</text>
<text x="629.33" y="108.08" fill="#8412d2">LOS</text>
<text x="676.40" y="108.08" fill="#8412d2">30.2</text>
<text x="716.75" y="108.08" fill="#2a86c4">193°</text>
<text x="750.38" y="108.08" fill="#2a86c4">(183°)</text>
<text x="326.70" y="119.26" fill="#1a66d6">KKCO</text>
<text x="400.67" y="119.26" fill="#1a66d6">12</text>
<text x="474.65" y="119.26" fill="#1a66d6">NBC</text>
<text x="521.72" y="119.26" fill="#1a66d6">22.8</text>
<text x="575.52" y="119.26" fill="#1a66d6">-68.1</text>
<text x="622.60" y="119.26" fill="#1a66d6">2Edge</text>
<text x="676.40" y="119.26" fill="#1a66d6">42.6</text>
<text x="716.75" y="119.26" fill="#c41aa6">302°</text>
<text x="750.38" y="119.26" fill="#c41aa6">(292°)</text>
<text x="326.70" y="130.44" fill="#1a66d6">K28AD-D</text>
<text x="400.67" y="130.44" fill="#1a66d6">28</text>
<text x="521.72" y="130.44" fill="#1a66d6">20.9</text>
<text x="575.52" y="130.44" fill="#1a66d6">-70.0</text>
<text x="622.60" y="130.44" fill="#1a66d6">2Edge</text>
<text x="676.40" y="130.44" fill="#1a66d6">19.6</text>
<text x="716.75" y="130.44" fill="#2a8a3c">143°</text>
<text x="750.38" y="130.44" fill="#2a8a3c">(132°)</text>
<text x="326.70" y="141.62" fill="#8412d2">K19CE</text>
<text x="400.67" y="141.62" fill="#8412d2">19</text>
<text x="521.72" y="141.62" fill="#8412d2">16.8</text>
<text x="575.52" y="141.62" fill="#8412d2">-62.0</text>
<text x="629.33" y="141.62" fill="#8412d2">LOS</text>
<text x="676.40" y="141.62" fill="#8412d2">36.4</text>
<text x="716.75" y="141.62" fill="#2a8a3c">140°</text>
<text x="750.38" y="141.62" fill="#2a8a3c">(130°)</text>
<rect x="306.52" y="144.02" width="6.82" height="10.58" fill="#fa6e6e"/>
<text x="306.52" y="152.80" fill="#fff">a</text>
<rect x="313.25" y="144.02" width="6.82" height="10.58" fill="#c80000"/>
<text x="313.25" y="152.80" fill="#fff">C</text>
<text x="326.70" y="152.80" fill="#1a66d6">KREX-DT</text>
<text x="407.40" y="152.80" fill="#1a66d6">2</text>
<text x="427.57" y="152.80" fill="#1a66d6">(5.1)</text>
<text x="474.65" y="152.80" fill="#1a66d6">CBS</text>
<text x="521.72" y="152.80" fill="#1a66d6">15.9</text>
<text x="575.52" y="152.80" fill="#1a66d6">-74.9</text>
<text x="622.60" y="152.80" fill="#1a66d6">2Edge</text>
<text x="676.40" y="152.80" fill="#1a66d6">35.7</text>
<text x="716.75" y="152.80" fill="#c41a96">312°</text>
<text x="750.38" y="152.80" fill="#c41a96">(302°)</text>
<text x="326.70" y="163.98" fill="#1a66d6">KFQX-DT</text>
<text x="400.67" y="163.98" fill="#1a66d6">15</text>
<text x="427.57" y="163.98" fill="#1a66d6">(4.1)</text>
<text x="474.65" y="163.98" fill="#1a66d6">Fox</text>
<text x="528.45" y="163.98" fill="#1a66d6">5.6</text>
<text x="575.52" y="163.98" fill="#1a66d6">-85.3</text>
<text x="622.60" y="163.98" fill="#1a66d6">2Edge</text>
<text x="676.40" y="163.98" fill="#1a66d6">42.6</text>
<text x="716.75" y="163.98" fill="#c41aa6">302°</text>
<text x="750.38" y="163.98" fill="#c41aa6">(292°)</text>
<text x="326.70" y="175.16" fill="#1a66d6">KJCT-DT</text>
<text x="407.40" y="175.16" fill="#1a66d6">7</text>
<text x="427.57" y="175.16" fill="#1a66d6">(8.1)</text>
<text x="474.65" y="175.16" fill="#1a66d6">ABC</text>
<text x="528.45" y="175.16" fill="#1a66d6">4.1</text>
<text x="575.52" y="175.16" fill="#1a66d6">-86.8</text>
<text x="622.60" y="175.16" fill="#1a66d6">2Edge</text>
<text x="676.40" y="175.16" fill="#1a66d6">23.2</text>
<text x="716.75" y="175.16" fill="#cc1a4a">335°</text>
<text x="750.38" y="175.16" fill="#cc1a4a">(325°)</text>
<rect x="306.52" y="177.56" width="6.82" height="10.58" fill="#fa6e6e"/>
<text x="306.52" y="186.34" fill="#fff">a</text>
<text x="326.70" y="186.34" fill="#1a66d6">KRMJ</text>
<text x="400.67" y="186.34" fill="#1a66d6">18</text>
<text x="474.65" y="186.34" fill="#1a66d6">PBS</text>
<text x="528.45" y="186.34" fill="#1a66d6">2.3</text>
<text x="575.52" y="186.34" fill="#1a66d6">-88.5</text>
<text x="622.60" y="186.34" fill="#1a66d6">2Edge</text>
<text x="676.40" y="186.34" fill="#1a66d6">42.6</text>
<text x="716.75" y="186.34" fill="#c41aa6">302°</text>
<text x="750.38" y="186.34" fill="#c41aa6">(292°)</text>
<text x="326.70" y="197.52" fill="#1a66d6">K25FZ</text>
<text x="400.67" y="197.52" fill="#1a66d6">25</text>
<text x="420.85" y="197.52" fill="#1a66d6">(25.1)</text>
<text x="521.72" y="197.52" fill="#1a66d6">-1.0</text>
<text x="575.52" y="197.52" fill="#1a66d6">-91.9</text>
<text x="622.60" y="197.52" fill="#1a66d6">2Edge</text>
<text x="676.40" y="197.52" fill="#1a66d6">42.6</text>
<text x="716.75" y="197.52" fill="#c41aa6">302°</text>
<text x="750.38" y="197.52" fill="#c41aa6">(292°)</text>
<rect x="306.52" y="199.92" width="6.82" height="10.58" fill="#fa6e6e"/>
<text x="306.52" y="208.70" fill="#fff">a</text>
<text x="326.70" y="208.70" fill="#1a66d6">K33IV-D</text>
<text x="400.67" y="208.70" fill="#1a66d6">33</text>
<text x="420.85" y="208.70" fill="#1a66d6">(18.1)</text>
<text x="521.72" y="208.70" fill="#1a66d6">-1.1</text>
<text x="575.52" y="208.70" fill="#1a66d6">-91.9</text>
<text x="622.60" y="208.70" fill="#1a66d6">1Edge</text>
<text x="676.40" y="208.70" fill="#1a66d6">32.6</text>
<text x="716.75" y="208.70" fill="#2a8a40">139°</text>
<text x="750.38" y="208.70" fill="#2a8a40">(128°)</text>
<text x="326.70" y="219.88" fill="#8412d2">K44CA</text>
<text x="400.67" y="219.88" fill="#8412d2">44</text>
<text x="521.72" y="219.88" fill="#8412d2">-3.5</text>
<text x="575.52" y="219.88" fill="#8412d2">-82.3</text>
<text x="629.33" y="219.88" fill="#8412d2">LOS</text>
<text x="676.40" y="219.88" fill="#8412d2">36.9</text>
<text x="716.75" y="219.88" fill="#2a8a3c">140°</text>
<text x="750.38" y="219.88" fill="#2a8a3c">(130°)</text>
<text x="326.70" y="231.06" fill="#8412d2">K25FZ</text>
<text x="400.67" y="231.06" fill="#8412d2">25</text>
<text x="515.00" y="231.06" fill="#8412d2">-11.5</text>
<text x="575.52" y="231.06" fill="#8412d2">-90.4</text>
<text x="622.60" y="231.06" fill="#8412d2">2Edge</text>
<text x="676.40" y="231.06" fill="#8412d2">42.6</text>
<text x="716.75" y="231.06" fill="#c41aa6">302°</text>
<text x="750.38" y="231.06" fill="#c41aa6">(292°)</text>
<text x="326.70" y="242.24" fill="#1a66d6">K24JO-D</text>
<text x="400.67" y="242.24" fill="#1a66d6">24</text>
<text x="515.00" y="242.24" fill="#1a66d6">-14.6</text>
<text x="568.80" y="242.24" fill="#1a66d6">-105.5</text>
<text x="622.60" y="242.24" fill="#1a66d6">2Edge</text>
<text x="676.40" y="242.24" fill="#1a66d6">25.3</text>
<text x="723.47" y="242.24" fill="#6aa01a">95°</text>
<text x="757.10" y="242.24" fill="#6aa01a">(85°)</text>
<rect x="306.52" y="244.64" width="6.82" height="10.58" fill="#fa6e6e"/>
<text x="306.52" y="253.42" fill="#fff">a</text>
<rect x="313.25" y="244.64" width="6.82" height="10.58" fill="#c80000"/>
<text x="313.25" y="253.42" fill="#fff">C</text>
<text x="326.70" y="253.42" fill="#8412d2">K03AY</text>
<text x="407.40" y="253.42" fill="#8412d2">3</text>
<text x="515.00" y="253.42" fill="#8412d2">-15.1</text>
<text x="575.52" y="253.42" fill="#8412d2">-94.0</text>
<text x="629.33" y="253.42" fill="#8412d2">LOS</text>
<text x="676.40" y="253.42" fill="#8412d2">41.6</text>
<text x="716.75" y="253.42" fill="#1a8a6a">157°</text>
<text x="750.38" y="253.42" fill="#1a8a6a">(147°)</text>
<rect x="306.52" y="255.82" width="6.82" height="10.58" fill="#fa6e6e"/>
<text x="306.52" y="264.60" fill="#fff">a</text>
<rect x="313.25" y="255.82" width="6.82" height="10.58" fill="#c80000"/>
<text x="313.25" y="264.60" fill="#fff">C</text>
<text x="326.70" y="264.60" fill="#8412d2">K13ML</text>
<text x="400.67" y="264.60" fill="#8412d2">13</text>
<text x="515.00" y="264.60" fill="#8412d2">-21.1</text>
<text x="568.80" y="264.60" fill="#8412d2">-100.0</text>
<text x="622.60" y="264.60" fill="#8412d2">2Edge</text>
<text x="676.40" y="264.60" fill="#8412d2">25.0</text>
<text x="723.47" y="264.60" fill="#6aa01a">94°</text>
<text x="757.10" y="264.60" fill="#6aa01a">(84°)</text>
<rect x="313.25" y="267.00" width="6.82" height="10.58" fill="#c80000"/>
<text x="313.25" y="275.78" fill="#fff">C</text>
<text x="326.70" y="275.78" fill="#1a66d6">K09PJ-D</text>
<text x="407.40" y="275.78" fill="#1a66d6">9</text>
<text x="420.85" y="275.78" fill="#1a66d6">(18.1)</text>
<text x="515.00" y="275.78" fill="#1a66d6">-23.8</text>
<text x="568.80" y="275.78" fill="#1a66d6">-114.6</text>
<text x="622.60" y="275.78" fill="#1a66d6">1Edge</text>
<text x="676.40" y="275.78" fill="#1a66d6">54.7</text>
<text x="716.75" y="275.78" fill="#1a8a6a">156°</text>
<text x="750.38" y="275.78" fill="#1a8a6a">(146°)</text>
<text x="326.70" y="286.96" fill="#8412d2">K14LS</text>
<text x="400.67" y="286.96" fill="#8412d2">14</text>
<text x="515.00" y="286.96" fill="#8412d2">-24.7</text>
<text x="568.80" y="286.96" fill="#8412d2">-103.6</text>
<text x="622.60" y="286.96" fill="#8412d2">2Edge</text>
<text x="676.40" y="286.96" fill="#8412d2">32.8</text>
<text x="716.75" y="286.96" fill="#c41a96">311°</text>
<text x="750.38" y="286.96" fill="#c41a96">(301°)</text>
<text x="326.70" y="298.14" fill="#8412d2">K45IT</text>
<text x="400.67" y="298.14" fill="#8412d2">45</text>
<text x="515.00" y="298.14" fill="#8412d2">-26.7</text>
<text x="568.80" y="298.14" fill="#8412d2">-105.6</text>
<text x="622.60" y="298.14" fill="#8412d2">2Edge</text>
<text x="676.40" y="298.14" fill="#8412d2">42.7</text>
<text x="716.75" y="298.14" fill="#c41aa6">302°</text>
<text x="750.38" y="298.14" fill="#c41aa6">(292°)</text>
<text x="326.70" y="309.32" fill="#8412d2">K47JR</text>
<text x="400.67" y="309.32" fill="#8412d2">47</text>
<text x="515.00" y="309.32" fill="#8412d2">-27.2</text>
<text x="568.80" y="309.32" fill="#8412d2">-106.0</text>
<text x="622.60" y="309.32" fill="#8412d2">2Edge</text>
<text x="676.40" y="309.32" fill="#8412d2">42.7</text>
<text x="716.75" y="309.32" fill="#c41aa6">302°</text>
<text x="750.38" y="309.32" fill="#c41aa6">(292°)</text>
<rect x="306.52" y="311.72" width="6.82" height="10.58" fill="#fa6e6e"/>
<text x="306.52" y="320.50" fill="#fff">a</text>
<rect x="313.25" y="311.72" width="6.82" height="10.58" fill="#c80000"/>
<text x="313.25" y="320.50" fill="#fff">C</text>
<text x="326.70" y="320.50" fill="#8412d2">K49IO</text>
<text x="400.67" y="320.50" fill="#8412d2">49</text>
<text x="515.00" y="320.50" fill="#8412d2">-27.5</text>
<text x="568.80" y="320.50" fill="#8412d2">-106.3</text>
<text x="622.60" y="320.50" fill="#8412d2">2Edge</text>
<text x="676.40" y="320.50" fill="#8412d2">42.7</text>
<text x="716.75" y="320.50" fill="#c41aa6">302°</text>
<text x="750.38" y="320.50" fill="#c41aa6">(292°)</text>
<rect x="306.52" y="322.90" width="6.82" height="10.58" fill="#fa6e6e"/>
<text x="306.52" y="331.68" fill="#fff">a</text>
<text x="326.70" y="331.68" fill="#1a66d6">KKHD-LP</text>
<text x="400.67" y="331.68" fill="#1a66d6">20</text>
<text x="420.85" y="331.68" fill="#1a66d6">(20.1)</text>
<text x="515.00" y="331.68" fill="#1a66d6">-28.5</text>
<text x="568.80" y="331.68" fill="#1a66d6">-119.4</text>
<text x="622.60" y="331.68" fill="#1a66d6">2Edge</text>
<text x="676.40" y="331.68" fill="#1a66d6">23.2</text>
<text x="716.75" y="331.68" fill="#cc1a4a">336°</text>
<text x="750.38" y="331.68" fill="#cc1a4a">(325°)</text>
<rect x="306.52" y="334.08" width="6.82" height="10.58" fill="#fa6e6e"/>
<text x="306.52" y="342.86" fill="#fff">a</text>
<rect x="313.25" y="334.08" width="6.82" height="10.58" fill="#c80000"/>
<text x="313.25" y="342.86" fill="#fff">C</text>
<text x="326.70" y="342.86" fill="#1a66d6">K03EY</text>
<text x="407.40" y="342.86" fill="#1a66d6">3</text>
<text x="427.57" y="342.86" fill="#1a66d6">(3.1)</text>
<text x="515.00" y="342.86" fill="#1a66d6">-28.6</text>
<text x="568.80" y="342.86" fill="#1a66d6">-119.4</text>
<text x="622.60" y="342.86" fill="#1a66d6">2Edge</text>
<text x="676.40" y="342.86" fill="#1a66d6">77.1</text>
<text x="716.75" y="342.86" fill="#5a9a1a">102°</text>
<text x="757.10" y="342.86" fill="#5a9a1a">(92°)</text>
<rect x="306.52" y="345.26" width="6.82" height="10.58" fill="#fa6e6e"/>
<text x="306.52" y="354.04" fill="#fff">a</text>
<rect x="313.25" y="345.26" width="6.82" height="10.58" fill="#c80000"/>
<text x="313.25" y="354.04" fill="#fff">C</text>
<text x="326.70" y="354.04" fill="#1a66d6">K04DH-D</text>
<text x="407.40" y="354.04" fill="#1a66d6">4</text>
<text x="515.00" y="354.04" fill="#1a66d6">-28.6</text>
<text x="568.80" y="354.04" fill="#1a66d6">-119.5</text>
<text x="622.60" y="354.04" fill="#1a66d6">2Edge</text>
<text x="676.40" y="354.04" fill="#1a66d6">64.9</text>
<text x="716.75" y="354.04" fill="#5a9a1a">103°</text>
<text x="757.10" y="354.04" fill="#5a9a1a">(93°)</text>
<rect x="306.52" y="356.44" width="6.82" height="10.58" fill="#fa6e6e"/>
<text x="306.52" y="365.22" fill="#fff">a</text>
<text x="326.70" y="365.22" fill="#1a66d6">K31IW-D</text>
<text x="400.67" y="365.22" fill="#1a66d6">31</text>
<text x="515.00" y="365.22" fill="#1a66d6">-31.3</text>
<text x="568.80" y="365.22" fill="#1a66d6">-122.1</text>
<text x="629.33" y="365.22" fill="#1a66d6">LOS</text>
<text x="676.40" y="365.22" fill="#1a66d6">41.6</text>
<text x="716.75" y="365.22" fill="#1a8a6a">157°</text>
<text x="750.38" y="365.22" fill="#1a8a6a">(147°)</text>
<rect x="313.25" y="367.62" width="6.82" height="10.58" fill="#c80000"/>
<text x="313.25" y="376.40" fill="#fff">C</text>
<text x="326.70" y="376.40" fill="#1a66d6">K06HN-D</text>
<text x="407.40" y="376.40" fill="#1a66d6">6</text>
<text x="515.00" y="376.40" fill="#1a66d6">-32.0</text>
<text x="568.80" y="376.40" fill="#1a66d6">-122.9</text>
<text x="622.60" y="376.40" fill="#1a66d6">2Edge</text>
<text x="676.40" y="376.40" fill="#1a66d6">64.9</text>
<text x="716.75" y="376.40" fill="#5a9a1a">103°</text>
<text x="757.10" y="376.40" fill="#5a9a1a">(93°)</text>
<text x="326.70" y="387.58" fill="#1a66d6">KREG-TV</text>
<text x="400.67" y="387.58" fill="#1a66d6">23</text>
<text x="474.65" y="387.58" fill="#1a66d6">CBS</text>
<text x="515.00" y="387.58" fill="#1a66d6">-32.5</text>
<text x="568.80" y="387.58" fill="#1a66d6">-123.4</text>
<text x="622.60" y="387.58" fill="#1a66d6">2Edge</text>
<text x="676.40" y="387.58" fill="#1a66d6">60.1</text>
<text x="723.47" y="387.58" fill="#e0701a">39°</text>
<text x="757.10" y="387.58" fill="#e0701a">(29°)</text>
<rect x="306.52" y="389.98" width="6.82" height="10.58" fill="#fa6e6e"/>
<text x="306.52" y="398.76" fill="#fff">a</text>
<rect x="313.25" y="389.98" width="6.82" height="10.58" fill="#c80000"/>
<text x="313.25" y="398.76" fill="#fff">C</text>
<text x="326.70" y="398.76" fill="#8412d2">K02BU</text>
<text x="407.40" y="398.76" fill="#8412d2">2</text>
<text x="515.00" y="398.76" fill="#8412d2">-34.9</text>
<text x="568.80" y="398.76" fill="#8412d2">-113.7</text>
<text x="622.60" y="398.76" fill="#8412d2">2Edge</text>
<text x="669.67" y="398.76" fill="#8412d2">114.9</text>
<text x="716.75" y="398.76" fill="#8420c8">279°</text>
<text x="750.38" y="398.76" fill="#8420c8">(269°)</text>
<rect x="313.25" y="401.16" width="6.82" height="10.58" fill="#c80000"/>
<text x="313.25" y="409.94" fill="#fff">C</text>
<text x="326.70" y="409.94" fill="#8412d2">K06HZ</text>
<text x="407.40" y="409.94" fill="#8412d2">6</text>
<text x="515.00" y="409.94" fill="#8412d2">-35.0</text>
<text x="568.80" y="409.94" fill="#8412d2">-113.8</text>
<text x="622.60" y="409.94" fill="#8412d2">2Edge</text>
<text x="676.40" y="409.94" fill="#8412d2">24.2</text>
<text x="723.47" y="409.94" fill="#b09a10">67°</text>
<text x="757.10" y="409.94" fill="#b09a10">(57°)</text>
<rect x="306.52" y="412.34" width="6.82" height="10.58" fill="#fa6e6e"/>
<text x="306.52" y="421.12" fill="#fff">a</text>
<rect x="313.25" y="412.34" width="6.82" height="10.58" fill="#c80000"/>
<text x="313.25" y="421.12" fill="#fff">C</text>
<text x="326.70" y="421.12" fill="#8412d2">K02OP</text>
<text x="407.40" y="421.12" fill="#8412d2">2</text>
<text x="515.00" y="421.12" fill="#8412d2">-37.2</text>
<text x="568.80" y="421.12" fill="#8412d2">-116.0</text>
<text x="622.60" y="421.12" fill="#8412d2">2Edge</text>
<text x="676.40" y="421.12" fill="#8412d2">34.9</text>
<text x="723.47" y="421.12" fill="#d81a1a">10°</text>
<text x="750.38" y="421.12" fill="#d81a1a">(359°)</text>
<rect x="306.52" y="423.52" width="6.82" height="10.58" fill="#fa6e6e"/>
<text x="306.52" y="432.30" fill="#fff">a</text>
<text x="326.70" y="432.30" fill="#8412d2">KKHD-LP</text>
<text x="400.67" y="432.30" fill="#8412d2">20</text>
<text x="515.00" y="432.30" fill="#8412d2">-37.5</text>
<text x="568.80" y="432.30" fill="#8412d2">-116.3</text>
<text x="622.60" y="432.30" fill="#8412d2">2Edge</text>
<text x="676.40" y="432.30" fill="#8412d2">23.2</text>
<text x="716.75" y="432.30" fill="#cc1a4a">336°</text>
<text x="750.38" y="432.30" fill="#cc1a4a">(325°)</text>
<rect x="313.25" y="434.70" width="6.82" height="10.58" fill="#c80000"/>
<text x="313.25" y="443.48" fill="#fff">C</text>
<text x="326.70" y="443.48" fill="#1a66d6">K42JR-D</text>
<text x="400.67" y="443.48" fill="#1a66d6">42</text>
<text x="515.00" y="443.48" fill="#1a66d6">-37.8</text>
<text x="568.80" y="443.48" fill="#1a66d6">-128.7</text>
<text x="622.60" y="443.48" fill="#1a66d6">2Edge</text>
<text x="676.40" y="443.48" fill="#1a66d6">24.0</text>
<text x="723.47" y="443.48" fill="#b09a10">68°</text>
<text x="757.10" y="443.48" fill="#b09a10">(57°)</text>
<rect x="306.52" y="445.88" width="6.82" height="10.58" fill="#fa6e6e"/>
<text x="306.52" y="454.66" fill="#fff">a</text>
<rect x="313.25" y="445.88" width="6.82" height="10.58" fill="#c80000"/>
<text x="313.25" y="454.66" fill="#fff">C</text>
<text x="326.70" y="454.66" fill="#1a66d6">K02NV-D</text>
<text x="407.40" y="454.66" fill="#1a66d6">2</text>
<text x="515.00" y="454.66" fill="#1a66d6">-39.3</text>
<text x="568.80" y="454.66" fill="#1a66d6">-130.1</text>
<text x="622.60" y="454.66" fill="#1a66d6">2Edge</text>
<text x="676.40" y="454.66" fill="#1a66d6">93.1</text>
<text x="716.75" y="454.66" fill="#5a9a1a">105°</text>
<text x="757.10" y="454.66" fill="#5a9a1a">(94°)</text>
</g>
<rect x="346.6" y="461" width="7" height="11" fill="#c80000"/>
<text x="346.8" y="470.3" font-family="Liberation Mono" font-size="11.2" fill="#fff">C</text>
<text x="361" y="471" font-family="Liberation Sans" font-size="10.6" font-weight="normal" fill="#222" text-anchor="start" textLength="123.4" lengthAdjust="spacingAndGlyphs">= Co-channel warning</text>
<rect x="557.9" y="461.2" width="6.7" height="10.5" fill="#fa6e6e"/>
<text x="557.9" y="470.3" font-family="Liberation Mono" font-size="11.2" fill="#fff">a</text>
<text x="571.2" y="470.6" font-family="Liberation Sans" font-size="10.6" font-weight="normal" fill="#222" text-anchor="start" textLength="156.8" lengthAdjust="spacingAndGlyphs">= Adjacent channel warning</text>
<rect x="39.4" y="636.9" width="9.6" height="123" fill="#e8e8e8"/>
<rect x="70" y="632.5" width="31" height="127.5" fill="#e8e8e8"/>
<g stroke="#e6e6e6" stroke-width="1" shape-rendering="crispEdges">
<line x1="9" y1="645.5" x2="172" y2="645.5"/>
<line x1="217" y1="645.5" x2="792" y2="645.5"/>
<line x1="9" y1="657.5" x2="172" y2="657.5"/>
<line x1="217" y1="657.5" x2="792" y2="657.5"/>
<line x1="9" y1="670.5" x2="172" y2="670.5"/>
<line x1="217" y1="670.5" x2="792" y2="670.5"/>
<line x1="9" y1="683.5" x2="172" y2="683.5"/>
<line x1="217" y1="683.5" x2="792" y2="683.5"/>
<line x1="9" y1="696.5" x2="172" y2="696.5"/>
<line x1="217" y1="696.5" x2="792" y2="696.5"/>
<line x1="9" y1="708.5" x2="172" y2="708.5"/>
<line x1="217" y1="708.5" x2="792" y2="708.5"/>
<line x1="9" y1="721.5" x2="172" y2="721.5"/>
<line x1="217" y1="721.5" x2="792" y2="721.5"/>
<line x1="9" y1="734.5" x2="172" y2="734.5"/>
<line x1="217" y1="734.5" x2="792" y2="734.5"/>
<line x1="9" y1="747.5" x2="172" y2="747.5"/>
<line x1="217" y1="747.5" x2="792" y2="747.5"/>
</g>
<g stroke="#707070" stroke-width="1" stroke-dasharray="1 1" shape-rendering="crispEdges">
<line x1="9" y1="645.5" x2="172" y2="645.5"/>
<line x1="217" y1="645.5" x2="792" y2="645.5"/>
<line x1="9" y1="657.5" x2="172" y2="657.5"/>
<line x1="217" y1="657.5" x2="792" y2="657.5"/>
<line x1="9" y1="670.5" x2="172" y2="670.5"/>
<line x1="217" y1="670.5" x2="792" y2="670.5"/>
<line x1="9" y1="683.5" x2="172" y2="683.5"/>
<line x1="217" y1="683.5" x2="792" y2="683.5"/>
<line x1="9" y1="696.5" x2="172" y2="696.5"/>
<line x1="217" y1="696.5" x2="792" y2="696.5"/>
<line x1="9" y1="708.5" x2="172" y2="708.5"/>
<line x1="217" y1="708.5" x2="792" y2="708.5"/>
<line x1="9" y1="721.5" x2="172" y2="721.5"/>
<line x1="217" y1="721.5" x2="792" y2="721.5"/>
<line x1="9" y1="734.5" x2="172" y2="734.5"/>
<line x1="217" y1="734.5" x2="792" y2="734.5"/>
<line x1="9" y1="747.5" x2="172" y2="747.5"/>
<line x1="217" y1="747.5" x2="792" y2="747.5"/>
</g>
<g stroke="#000" stroke-width="2" fill="none">
<path d="M12.5,632.5 H7.5 V760.4 H173.2 V632.5 H163"/>
<path d="M111,632.5 H64.7"/>
<path d="M484,632.8 H215.4 V760 H792.5 V632.8 H523.5"/>
</g>
<text x="39.2" y="635.6" font-family="Liberation Sans" font-size="10.8" font-weight="bold" fill="#111" text-anchor="middle" textLength="38" lengthAdjust="spacingAndGlyphs">VHF Lo</text>
<text x="137.6" y="635.6" font-family="Liberation Sans" font-size="10.8" font-weight="bold" fill="#111" text-anchor="middle" textLength="36.2" lengthAdjust="spacingAndGlyphs">VHF Hi</text>
<text x="503.6" y="635.9" font-family="Liberation Sans" font-size="10.8" font-weight="bold" fill="#111" text-anchor="middle" textLength="23.4" lengthAdjust="spacingAndGlyphs">UHF</text>
<text x="194" y="636.4" font-family="Liberation Sans" font-size="10.8" font-weight="normal" fill="#222" text-anchor="middle" textLength="22.2" lengthAdjust="spacingAndGlyphs">dBm</text>
<text x="202" y="648.8" font-family="Liberation Sans" font-size="10.2" font-weight="normal" fill="#111" text-anchor="end" textLength="15.8" lengthAdjust="spacingAndGlyphs">-10</text>
<text x="202" y="660.8" font-family="Liberation Sans" font-size="10.2" font-weight="normal" fill="#111" text-anchor="end" textLength="15.8" lengthAdjust="spacingAndGlyphs">-20</text>
<text x="202" y="673.8" font-family="Liberation Sans" font-size="10.2" font-weight="normal" fill="#111" text-anchor="end" textLength="15.8" lengthAdjust="spacingAndGlyphs">-30</text>
<text x="202" y="686.8" font-family="Liberation Sans" font-size="10.2" font-weight="normal" fill="#111" text-anchor="end" textLength="15.8" lengthAdjust="spacingAndGlyphs">-40</text>
<text x="202" y="699.8" font-family="Liberation Sans" font-size="10.2" font-weight="normal" fill="#111" text-anchor="end" textLength="15.8" lengthAdjust="spacingAndGlyphs">-50</text>
<text x="202" y="711.8" font-family="Liberation Sans" font-size="10.2" font-weight="normal" fill="#111" text-anchor="end" textLength="15.8" lengthAdjust="spacingAndGlyphs">-60</text>
<text x="202" y="724.8" font-family="Liberation Sans" font-size="10.2" font-weight="normal" fill="#111" text-anchor="end" textLength="15.8" lengthAdjust="spacingAndGlyphs">-70</text>
<text x="202" y="737.8" font-family="Liberation Sans" font-size="10.2" font-weight="normal" fill="#111" text-anchor="end" textLength="15.8" lengthAdjust="spacingAndGlyphs">-80</text>
<text x="202" y="750.8" font-family="Liberation Sans" font-size="10.2" font-weight="normal" fill="#111" text-anchor="end" textLength="15.8" lengthAdjust="spacingAndGlyphs">-90</text>
<text x="194" y="761.5" font-family="Liberation Sans" font-size="9.6" font-weight="normal" fill="#333" text-anchor="middle" textLength="34.2" lengthAdjust="spacingAndGlyphs">Channel</text>
<rect x="10.4" y="755.5" width="6.1" height="9" fill="#fff"/>
<text x="13.4" y="762.2" font-family="Liberation Sans" font-size="7.4" fill="#222" text-anchor="middle" letter-spacing="0.4">2</text>
<rect x="31.3" y="755.5" width="6.1" height="9" fill="#fff"/>
<text x="34.4" y="762.2" font-family="Liberation Sans" font-size="7.4" fill="#222" text-anchor="middle" letter-spacing="0.4">4</text>
<rect x="52.0" y="755.5" width="6.1" height="9" fill="#fff"/>
<text x="55.0" y="762.2" font-family="Liberation Sans" font-size="7.4" fill="#222" text-anchor="middle" letter-spacing="0.4">5</text>
<rect x="61.5" y="755.5" width="6.1" height="9" fill="#fff"/>
<text x="64.6" y="762.2" font-family="Liberation Sans" font-size="7.4" fill="#222" text-anchor="middle" letter-spacing="0.4">6</text>
<rect x="103.0" y="755.5" width="6.1" height="9" fill="#fff"/>
<text x="106.0" y="762.2" font-family="Liberation Sans" font-size="7.4" fill="#222" text-anchor="middle" letter-spacing="0.4">7</text>
<rect x="123.5" y="755.5" width="6.1" height="9" fill="#fff"/>
<text x="126.5" y="762.2" font-family="Liberation Sans" font-size="7.4" fill="#222" text-anchor="middle" letter-spacing="0.4">9</text>
<rect x="141.5" y="755.5" width="10.7" height="9" fill="#fff"/>
<text x="146.8" y="762.2" font-family="Liberation Sans" font-size="7.4" fill="#222" text-anchor="middle" letter-spacing="0.4">11</text>
<rect x="162.2" y="755.5" width="10.7" height="9" fill="#fff"/>
<text x="167.5" y="762.2" font-family="Liberation Sans" font-size="7.4" fill="#222" text-anchor="middle" letter-spacing="0.4">13</text>
<rect x="214.7" y="755.5" width="10.7" height="9" fill="#fff"/>
<text x="220.0" y="762.2" font-family="Liberation Sans" font-size="7.4" fill="#222" text-anchor="middle" letter-spacing="0.4">14</text>
<rect x="235.2" y="755.5" width="10.7" height="9" fill="#fff"/>
<text x="240.6" y="762.2" font-family="Liberation Sans" font-size="7.4" fill="#222" text-anchor="middle" letter-spacing="0.4">16</text>
<rect x="266.1" y="755.5" width="10.7" height="9" fill="#fff"/>
<text x="271.4" y="762.2" font-family="Liberation Sans" font-size="7.4" fill="#222" text-anchor="middle" letter-spacing="0.4">19</text>
<rect x="297.0" y="755.5" width="10.7" height="9" fill="#fff"/>
<text x="302.3" y="762.2" font-family="Liberation Sans" font-size="7.4" fill="#222" text-anchor="middle" letter-spacing="0.4">22</text>
<rect x="327.8" y="755.5" width="10.7" height="9" fill="#fff"/>
<text x="333.2" y="762.2" font-family="Liberation Sans" font-size="7.4" fill="#222" text-anchor="middle" letter-spacing="0.4">25</text>
<rect x="358.7" y="755.5" width="10.7" height="9" fill="#fff"/>
<text x="364.1" y="762.2" font-family="Liberation Sans" font-size="7.4" fill="#222" text-anchor="middle" letter-spacing="0.4">28</text>
<rect x="389.6" y="755.5" width="10.7" height="9" fill="#fff"/>
<text x="394.9" y="762.2" font-family="Liberation Sans" font-size="7.4" fill="#222" text-anchor="middle" letter-spacing="0.4">31</text>
<rect x="420.4" y="755.5" width="10.7" height="9" fill="#fff"/>
<text x="425.8" y="762.2" font-family="Liberation Sans" font-size="7.4" fill="#222" text-anchor="middle" letter-spacing="0.4">34</text>
<rect x="451.3" y="755.5" width="10.7" height="9" fill="#fff"/>
<text x="456.7" y="762.2" font-family="Liberation Sans" font-size="7.4" fill="#222" text-anchor="middle" letter-spacing="0.4">37</text>
<rect x="482.2" y="755.5" width="10.7" height="9" fill="#fff"/>
<text x="487.5" y="762.2" font-family="Liberation Sans" font-size="7.4" fill="#222" text-anchor="middle" letter-spacing="0.4">40</text>
<rect x="513.1" y="755.5" width="10.7" height="9" fill="#fff"/>
<text x="518.4" y="762.2" font-family="Liberation Sans" font-size="7.4" fill="#222" text-anchor="middle" letter-spacing="0.4">43</text>
<rect x="543.9" y="755.5" width="10.7" height="9" fill="#fff"/>
<text x="549.3" y="762.2" font-family="Liberation Sans" font-size="7.4" fill="#222" text-anchor="middle" letter-spacing="0.4">46</text>
<rect x="574.8" y="755.5" width="10.7" height="9" fill="#fff"/>
<text x="580.1" y="762.2" font-family="Liberation Sans" font-size="7.4" fill="#222" text-anchor="middle" letter-spacing="0.4">49</text>
<rect x="605.7" y="755.5" width="10.7" height="9" fill="#fff"/>
<text x="611.0" y="762.2" font-family="Liberation Sans" font-size="7.4" fill="#222" text-anchor="middle" letter-spacing="0.4">52</text>
<rect x="636.5" y="755.5" width="10.7" height="9" fill="#fff"/>
<text x="641.9" y="762.2" font-family="Liberation Sans" font-size="7.4" fill="#222" text-anchor="middle" letter-spacing="0.4">55</text>
<rect x="667.4" y="755.5" width="10.7" height="9" fill="#fff"/>
<text x="672.8" y="762.2" font-family="Liberation Sans" font-size="7.4" fill="#222" text-anchor="middle" letter-spacing="0.4">58</text>
<rect x="698.3" y="755.5" width="10.7" height="9" fill="#fff"/>
<text x="703.6" y="762.2" font-family="Liberation Sans" font-size="7.4" fill="#222" text-anchor="middle" letter-spacing="0.4">61</text>
<rect x="729.1" y="755.5" width="10.7" height="9" fill="#fff"/>
<text x="734.5" y="762.2" font-family="Liberation Sans" font-size="7.4" fill="#222" text-anchor="middle" letter-spacing="0.4">64</text>
<rect x="760.0" y="755.5" width="10.7" height="9" fill="#fff"/>
<text x="765.4" y="762.2" font-family="Liberation Sans" font-size="7.4" fill="#222" text-anchor="middle" letter-spacing="0.4">67</text>
<rect x="780.6" y="755.5" width="10.7" height="9" fill="#fff"/>
<text x="785.9" y="762.2" font-family="Liberation Sans" font-size="7.4" fill="#222" text-anchor="middle" letter-spacing="0.4">69</text>
<rect x="8.9" y="681.0" width="9" height="41.3" fill="#fff"/>
<rect x="8.9" y="660.4" width="9" height="29.5" fill="#fff"/>
<rect x="101.5" y="696.1" width="9" height="41.3" fill="#fff"/>
<rect x="152.8" y="690.0" width="9" height="23.6" fill="#fff"/>
<rect x="163.0" y="667.2" width="9" height="41.3" fill="#fff"/>
<rect x="225.8" y="694.2" width="9" height="41.3" fill="#fff"/>
<rect x="256.7" y="716.0" width="9" height="23.6" fill="#fff"/>
<rect x="266.9" y="676.3" width="9" height="29.5" fill="#fff"/>
<rect x="287.5" y="658.6" width="9" height="41.3" fill="#fff"/>
<rect x="328.7" y="712.5" width="9" height="29.5" fill="#fff"/>
<rect x="359.6" y="674.7" width="9" height="41.3" fill="#fff"/>
<rect x="400.7" y="660.3" width="9" height="41.3" fill="#fff"/>
<rect x="411.0" y="702.6" width="9" height="41.3" fill="#fff"/>
<rect x="441.9" y="656.0" width="9" height="41.3" fill="#fff"/>
<rect x="524.2" y="702.2" width="9" height="29.5" fill="#fff"/>
<rect x="575.6" y="667.1" width="9" height="41.3" fill="#fff"/>
<rect x="585.9" y="667.4" width="9" height="29.5" fill="#fff"/>
<text transform="translate(15.4,722.8) rotate(-90)" font-family="Liberation Sans" font-size="9.8" fill="#6aa0e4">KREX-DT</text>
<text transform="translate(15.4,690.4) rotate(-90)" font-family="Liberation Sans" font-size="9.8" fill="#b27ae4">K02GJ</text>
<text transform="translate(108.0,737.9) rotate(-90)" font-family="Liberation Sans" font-size="9.8" fill="#1a66d6">KJCT-DT</text>
<text transform="translate(159.2,714.1) rotate(-90)" font-family="Liberation Sans" font-size="9.8" fill="#1a66d6">KKCO</text>
<text transform="translate(169.5,709.0) rotate(-90)" font-family="Liberation Sans" font-size="9.8" fill="#1a66d6">KREY-DT</text>
<text transform="translate(232.3,736.0) rotate(-90)" font-family="Liberation Sans" font-size="9.8" fill="#1a66d6">KFQX-DT</text>
<text transform="translate(263.2,740.1) rotate(-90)" font-family="Liberation Sans" font-size="9.8" fill="#1a66d6">KRMJ</text>
<text transform="translate(273.4,706.3) rotate(-90)" font-family="Liberation Sans" font-size="9.8" fill="#8412d2">K19CE</text>
<text transform="translate(294.0,700.4) rotate(-90)" font-family="Liberation Sans" font-size="9.8" fill="#1a66d6">K21JK-D</text>
<text transform="translate(335.2,742.5) rotate(-90)" font-family="Liberation Sans" font-size="9.8" fill="#8412d2">K25FZ</text>
<text transform="translate(366.1,716.5) rotate(-90)" font-family="Liberation Sans" font-size="9.8" fill="#1a66d6">K28AD-D</text>
<text transform="translate(407.2,702.1) rotate(-90)" font-family="Liberation Sans" font-size="9.8" fill="#1a66d6">K32CW-D</text>
<text transform="translate(417.5,744.4) rotate(-90)" font-family="Liberation Sans" font-size="9.8" fill="#1a66d6">K33IV-D</text>
<text transform="translate(448.4,697.8) rotate(-90)" font-family="Liberation Sans" font-size="9.8" fill="#8412d2">KXHD-LP</text>
<text transform="translate(530.7,732.2) rotate(-90)" font-family="Liberation Sans" font-size="9.8" fill="#8412d2">K44CA</text>
<text transform="translate(582.1,708.9) rotate(-90)" font-family="Liberation Sans" font-size="9.8" fill="#1a66d6">K49JX-D</text>
<text transform="translate(592.4,697.4) rotate(-90)" font-family="Liberation Sans" font-size="9.8" fill="#8412d2">K50EZ</text>
<rect x="328.7" y="748.3" width="9" height="3.2" rx="1" fill="#0a50c0" stroke="#0c2a6a" stroke-width="0.6"/>
<rect x="7.1" y="725.4" width="12.6" height="5.8" rx="2.9" fill="#fff000" fill-opacity="0.55"/>
<rect x="8.9" y="726.7" width="9" height="3.2" rx="1.4" fill="#6aa0e4"/>
<rect x="7.1" y="693.0" width="12.6" height="5.8" rx="2.9" fill="#fff000" fill-opacity="0.55"/>
<rect x="8.9" y="694.3" width="9" height="3.2" rx="1.4" fill="#b27ae4"/>
<rect x="99.7" y="740.5" width="12.6" height="5.8" rx="2.9" fill="#fff000" fill-opacity="1"/>
<rect x="101.5" y="741.8" width="9" height="3.2" rx="1.4" fill="#0a58d0"/>
<rect x="150.9" y="716.7" width="12.6" height="5.8" rx="2.9" fill="#fff000" fill-opacity="1"/>
<rect x="152.8" y="718.0" width="9" height="3.2" rx="1.4" fill="#0a58d0"/>
<rect x="161.2" y="711.6" width="12.6" height="5.8" rx="2.9" fill="#fff000" fill-opacity="1"/>
<rect x="163.0" y="712.9" width="9" height="3.2" rx="1.4" fill="#0a58d0"/>
<rect x="225.8" y="739.9" width="9" height="3.2" rx="1" fill="#0a50c0" stroke="#0c2a6a" stroke-width="0.6"/>
<rect x="256.7" y="744.0" width="9" height="3.2" rx="1" fill="#0a50c0" stroke="#0c2a6a" stroke-width="0.6"/>
<rect x="266.9" y="710.2" width="9" height="3.2" rx="1" fill="#7a0ac8" stroke="#0c2a6a" stroke-width="0.6"/>
<rect x="287.5" y="704.3" width="9" height="3.2" rx="1" fill="#0a50c0" stroke="#0c2a6a" stroke-width="0.6"/>
<rect x="328.7" y="746.4" width="9" height="3.2" rx="1" fill="#7a0ac8" stroke="#0c2a6a" stroke-width="0.6"/>
<rect x="359.6" y="720.4" width="9" height="3.2" rx="1" fill="#0a50c0" stroke="#0c2a6a" stroke-width="0.6"/>
<rect x="400.7" y="706.0" width="9" height="3.2" rx="1" fill="#0a50c0" stroke="#0c2a6a" stroke-width="0.6"/>
<rect x="411.0" y="748.3" width="9" height="3.2" rx="1" fill="#0a50c0" stroke="#0c2a6a" stroke-width="0.6"/>
<rect x="441.9" y="701.7" width="9" height="3.2" rx="1" fill="#7a0ac8" stroke="#0c2a6a" stroke-width="0.6"/>
<rect x="524.2" y="736.1" width="9" height="3.2" rx="1" fill="#7a0ac8" stroke="#0c2a6a" stroke-width="0.6"/>
<rect x="575.6" y="712.8" width="9" height="3.2" rx="1" fill="#0a50c0" stroke="#0c2a6a" stroke-width="0.6"/>
<rect x="585.9" y="701.3" width="9" height="3.2" rx="1" fill="#7a0ac8" stroke="#0c2a6a" stroke-width="0.6"/>
</svg>
</body></html>
